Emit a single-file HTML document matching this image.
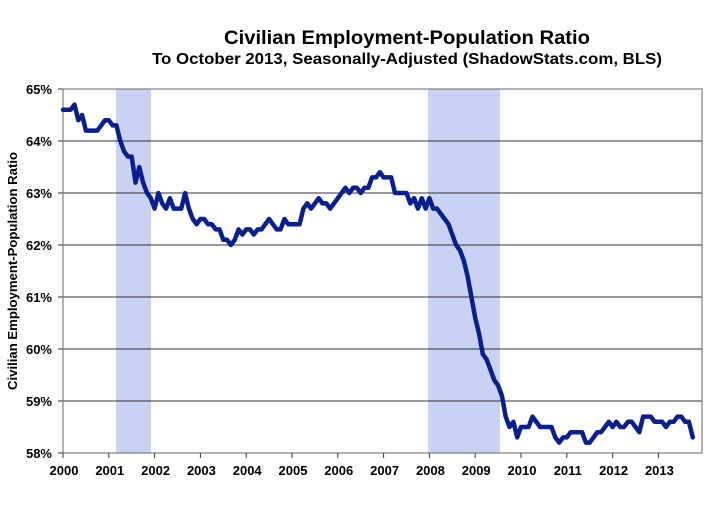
<!DOCTYPE html>
<html><head><meta charset="utf-8"><style>
body{margin:0;background:#fff;width:721px;height:500px;overflow:hidden}
svg text{font-family:"Liberation Sans",Arial,sans-serif;font-weight:bold;fill:#000}
</style></head><body>
<svg id="s" width="721" height="500" xmlns="http://www.w3.org/2000/svg">
<text x="407" y="44" font-size="19" text-anchor="middle" textLength="366" lengthAdjust="spacingAndGlyphs">Civilian Employment-Population Ratio</text>
<text x="407" y="64" font-size="15.5" text-anchor="middle" textLength="510" lengthAdjust="spacingAndGlyphs">To October 2013, Seasonally-Adjusted (ShadowStats.com, BLS)</text>
<text transform="translate(17,271) rotate(-90)" font-size="13" text-anchor="middle" textLength="238" lengthAdjust="spacingAndGlyphs">Civilian Employment-Population Ratio</text>
<rect x="116" y="89" width="35" height="364" fill="#c9d2f3"/>
<rect x="428" y="89" width="72" height="364" fill="#c9d2f3"/>
<g id="grid" stroke="#333" stroke-width="1"></g>
<rect x="63" y="89" width="639" height="364" fill="none" stroke="#666" stroke-width="1"/>
<g id="lab"></g>
<polyline id="ln" fill="none" stroke="#0a1f8f" stroke-width="4.5" stroke-linejoin="round" stroke-linecap="round"/>
</svg>
<script>
var d=[64.6,64.6,64.6,64.7,64.4,64.5,64.2,64.2,64.2,64.2,64.3,64.4,
64.4,64.3,64.3,64.0,63.8,63.7,63.7,63.2,63.5,63.2,63.0,62.9,
62.7,63.0,62.8,62.7,62.9,62.7,62.7,62.7,63.0,62.7,62.5,62.4,
62.5,62.5,62.4,62.4,62.3,62.3,62.1,62.1,62.0,62.1,62.3,62.2,
62.3,62.3,62.2,62.3,62.3,62.4,62.5,62.4,62.3,62.3,62.5,62.4,
62.4,62.4,62.4,62.7,62.8,62.7,62.8,62.9,62.8,62.8,62.7,62.8,
62.9,63.0,63.1,63.0,63.1,63.1,63.0,63.1,63.1,63.3,63.3,63.4,
63.3,63.3,63.3,63.0,63.0,63.0,63.0,62.8,62.9,62.7,62.9,62.7,
62.9,62.7,62.7,62.6,62.5,62.4,62.2,62.0,61.9,61.7,61.4,61.0,
60.6,60.3,59.9,59.8,59.6,59.4,59.3,59.1,58.7,58.5,58.6,58.3,
58.5,58.5,58.5,58.7,58.6,58.5,58.5,58.5,58.5,58.3,58.2,58.3,
58.3,58.4,58.4,58.4,58.4,58.2,58.2,58.3,58.4,58.4,58.5,58.6,
58.5,58.6,58.5,58.5,58.6,58.6,58.5,58.4,58.7,58.7,58.7,58.6,
58.6,58.6,58.5,58.6,58.6,58.7,58.7,58.6,58.6,58.3];
var yw=45.8,mw=yw/12,p=[];
for(var i=0;i<d.length;i++){p.push((63+i*mw).toFixed(1)+","+(89+(65-d[i])*52).toFixed(1));}
document.getElementById("ln").setAttribute("points",p.join(" "));
var g=document.getElementById("grid"),l=document.getElementById("lab"),h="";
for(var k=0;k<=7;k++){var y=89+k*52;
if(k>0&&k<7)g.innerHTML+='<line x1="63" x2="702" y1="'+y+'" y2="'+y+'"/>';
g.innerHTML+='<line x1="58" x2="63" y1="'+y+'" y2="'+y+'"/>';
h+='<text x="52" y="'+(y+5)+'" font-size="13" text-anchor="end">'+(65-k)+'%</text>';}
for(var yr=0;yr<14;yr++){var x=63+yr*yw;
g.innerHTML+='<line x1="'+x+'" x2="'+x+'" y1="453" y2="458"/>';
h+='<text x="'+(x+1)+'" y="475" font-size="13" text-anchor="middle">'+(2000+yr)+'</text>';}
l.innerHTML=h;
</script>
</body></html>
